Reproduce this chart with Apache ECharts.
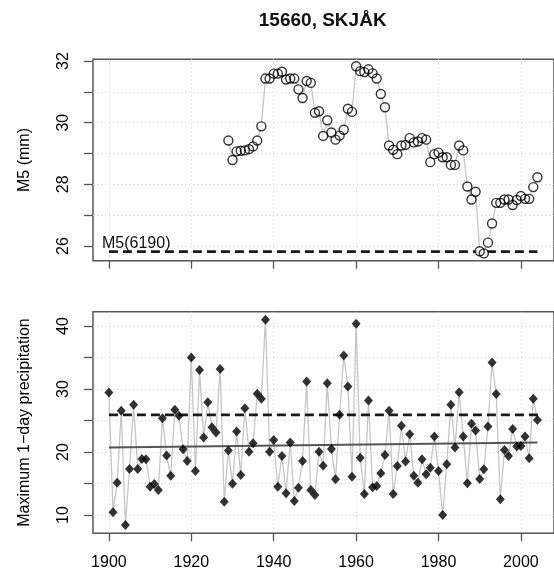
<!DOCTYPE html>
<html>
<head>
<meta charset="utf-8">
<script src="https://cdn.jsdelivr.net/npm/echarts@6/dist/echarts.min.js"></script>
<style>
  html, body { margin: 0; padding: 0; background: #fff; }
  #chart { width: 554px; height: 574px; }
</style>
</head>
<body>
<div id="chart"></div>
<script>
// Station 15660 (Skjåk): M5 estimates and annual maximum 1-day precipitation

// Upper panel: M5 (mm), one value per year starting in m5Start
const m5Start = 1929;
const m5Values = [
  29.42,
  28.79, 29.07, 29.09, 29.10, 29.14, 29.23, 29.42, 29.88, 31.43, 31.43,
  31.59, 31.59, 31.65, 31.40, 31.43, 31.43, 31.08, 30.80, 31.35, 31.29,
  30.32, 30.37, 29.57, 30.08, 29.68, 29.45, 29.58, 29.77, 30.45, 30.35,
  31.83, 31.67, 31.64, 31.73, 31.60, 31.43, 30.93, 30.50, 29.26, 29.12,
  28.98, 29.26, 29.28, 29.50, 29.36, 29.39, 29.50, 29.45, 28.72, 28.98,
  29.03, 28.88, 28.88, 28.63, 28.63, 29.26, 29.10, 27.93, 27.51, 27.76,
  25.83, 25.76, 26.11, 26.73, 27.40, 27.40, 27.51, 27.51, 27.33, 27.49,
  27.62, 27.53, 27.53, 27.91, 28.23
];

// Reference M5 level from station 6190
const m5RefLabel = 'M5(6190)';
const m5RefValue = 25.82;
const m5RefYears = [1900, 2004];

// Lower panel: maximum 1-day precipitation, one value per year starting in rx1Start
const rx1Start = 1900;
const rx1Values = [
  29.44, 10.43, 15.13, 26.53,  8.41, 17.31, 27.49, 17.31, 18.90, 18.85,
  14.50, 14.93, 13.98, 25.37, 19.43, 16.25, 26.69, 25.74, 20.44, 18.59,
  35.00, 17.00, 33.00, 22.29, 27.90, 23.94, 23.09, 33.16, 12.11, 20.23,
  14.98, 23.24, 16.36, 26.96, 20.06, 21.40, 29.24, 28.44, 41.00, 20.06,
  21.92, 14.50, 19.38, 13.45, 21.50, 12.22, 14.34, 18.59, 31.19, 13.98,
  13.18, 20.06, 17.84, 30.93, 20.49, 15.67, 25.90, 35.33, 30.40, 16.09,
  40.37, 19.11, 13.34, 28.17, 14.40, 14.61, 16.63, 19.54, 26.53, 13.34,
  17.79, 24.15, 18.48, 22.83, 16.25, 15.13, 18.85, 16.47, 17.52, 22.45,
  17.00, 10.00, 18.06, 27.49, 20.70, 29.50, 22.45, 15.04, 24.47, 23.41,
  15.72, 17.26, 24.04, 34.21, 29.19, 12.50, 20.33, 19.38, 23.67, 20.86,
  20.97, 22.45, 19.01, 28.44, 25.10
];

// Dashed level and linear trend in the lower panel
const rx1RefValue = 25.9;
const rx1RefYears = [1900, 2005];
const trendYears = [1900, 2004];
const trendValues = [20.7, 21.5];

// Tick marks and labels
const yearTicks = [1900, 1920, 1940, 1960, 1980, 2000];
const m5Ticks = [26, 27, 28, 29, 30, 31, 32];
const m5Labels = [26, 28, 30, 32];
const rx1Ticks = [10, 15, 20, 25, 30, 35, 40];
const rx1Labels = [10, 20, 30, 40];

const titleText = '15660, SKJÅK';
const m5AxisName = 'M5 (mm)';
const rx1AxisName = 'Maximum 1\u2212day precipitation';

// ---- layout and styling ----
const FONT = '"Liberation Sans", Arial, Helvetica, sans-serif';
const FRAME = '#555';
const GRIDC = '#cfcfcf';
const X_MIN = 1896.14;
const X_MAX = 2008.03;

const toPairs = (start, vals) => vals.map((v, i) => [start + i, v]);
const m5Data = toPairs(m5Start, m5Values);
const rx1Data = toPairs(rx1Start, rx1Values);
const flat = (years, v) => years.map(y => [y, v]);

function xAxisFor(gridIndex, showLabels) {
  return {
    type: 'value', gridIndex, min: X_MIN, max: X_MAX,
    axisLine: { show: false },
    axisTick: { show: true, length: 8, customValues: yearTicks,
                lineStyle: { color: FRAME, width: 1.3 } },
    axisLabel: { show: showLabels, customValues: yearTicks, margin: 21,
                 color: '#000', fontSize: 16, fontFamily: FONT,
                 formatter: v => String(v) },
    splitLine: { show: true, lineStyle: { color: GRIDC, width: 1, type: [1, 3] } }
  };
}

function yAxisFor(gridIndex, min, max, ticks, labels, name) {
  return {
    type: 'value', gridIndex, min, max,
    axisLine: { show: false },
    axisTick: { show: true, length: 9, customValues: ticks,
                lineStyle: { color: FRAME, width: 1.3 } },
    axisLabel: { customValues: labels, rotate: 90, margin: 21,
                 color: '#000', fontSize: 16, fontFamily: FONT,
                 formatter: v => String(v) },
    splitLine: { show: true, lineStyle: { color: GRIDC, width: 1, type: [1, 3] } },
    name, nameLocation: 'middle', nameGap: 60, nameRotate: 90,
    nameTextStyle: { color: '#000', fontSize: 16, fontFamily: FONT }
  };
}

const chart = echarts.init(document.getElementById('chart'), null, { renderer: 'canvas' });

chart.setOption({
  animation: false,
  backgroundColor: '#fff',
  grid: [
    { left: 93, right: -3, top: 59.3, height: 201.4, show: true,
      borderColor: FRAME, borderWidth: 1.5, backgroundColor: 'transparent' },
    { left: 93, right: -3, top: 311.7, height: 221.6, show: true,
      borderColor: FRAME, borderWidth: 1.5, backgroundColor: 'transparent' }
  ],
  xAxis: [xAxisFor(0, false), xAxisFor(1, true)],
  yAxis: [
    yAxisFor(0, 25.524, 32.055, m5Ticks, m5Labels, m5AxisName),
    yAxisFor(1, 7.10, 42.27, rx1Ticks, rx1Labels, rx1AxisName)
  ],
  graphic: [
    { type: 'text', x: 322.7, y: 21, silent: true,
      style: { text: titleText, fill: '#111', font: 'bold 19px ' + FONT,
               align: 'center', verticalAlign: 'middle' } },
    { type: 'text', x: 102, y: 244, silent: true, z: 10,
      style: { text: m5RefLabel, fill: '#111', font: '16px ' + FONT,
               align: 'left', verticalAlign: 'middle' } }
  ],
  series: [
    // upper panel
    { type: 'line', xAxisIndex: 0, yAxisIndex: 0, data: m5Data, symbol: 'none',
      lineStyle: { color: '#c6c6c6', width: 1.3 }, z: 2, silent: true },
    { type: 'line', xAxisIndex: 0, yAxisIndex: 0, data: flat(m5RefYears, m5RefValue),
      symbol: 'none', lineStyle: { color: '#1a1a1a', width: 2.8, type: [9, 5] }, z: 3, silent: true },
    { type: 'scatter', xAxisIndex: 0, yAxisIndex: 0, data: m5Data, symbol: 'circle',
      symbolSize: 9, itemStyle: { color: '#fff' }, z: 4, silent: true },
    { type: 'scatter', xAxisIndex: 0, yAxisIndex: 0, data: m5Data, symbol: 'circle',
      symbolSize: 9, itemStyle: { color: 'rgba(0,0,0,0)', borderColor: '#000', borderWidth: 1.4 },
      z: 5, silent: true },
    // lower panel
    { type: 'line', xAxisIndex: 1, yAxisIndex: 1, data: rx1Data, symbol: 'none',
      lineStyle: { color: '#c6c6c6', width: 1.3 }, z: 2, silent: true },
    { type: 'line', xAxisIndex: 1, yAxisIndex: 1, data: flat(rx1RefYears, rx1RefValue),
      symbol: 'none', lineStyle: { color: '#1a1a1a', width: 2.8, type: [9, 5] }, z: 3, silent: true },
    { type: 'line', xAxisIndex: 1, yAxisIndex: 1,
      data: trendYears.map((y, i) => [y, trendValues[i]]),
      symbol: 'none', lineStyle: { color: '#555', width: 2 }, z: 3, silent: true },
    { type: 'scatter', xAxisIndex: 1, yAxisIndex: 1, data: rx1Data, symbol: 'diamond',
      symbolSize: [9, 10], itemStyle: { color: '#000' }, z: 5, silent: true }
  ]
});
</script>
</body>
</html>
